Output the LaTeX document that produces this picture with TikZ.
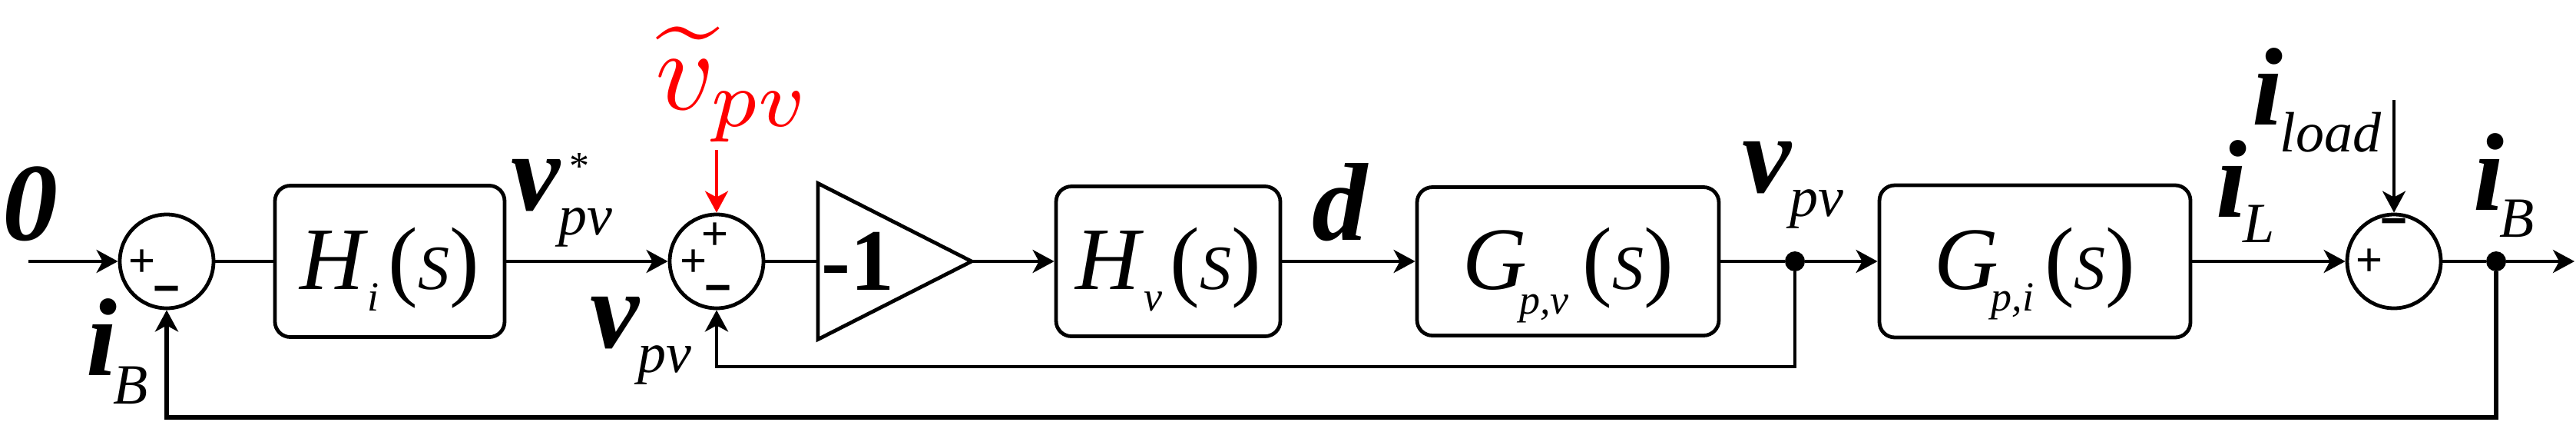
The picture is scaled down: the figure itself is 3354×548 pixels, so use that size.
\documentclass[tikz,border=0pt]{standalone}
\usepackage{fontspec}
\setmainfont{Liberation Serif}
\setsansfont{Liberation Sans}
\usepackage{graphicx}
\usetikzlibrary{arrows.meta}
\newcommand\labBig{\fontsize{72}{80}\selectfont\bfseries\itshape}
\newcommand\labSub{\fontsize{37}{40}\selectfont\mdseries\itshape}
\newcommand\boxMain{\fontsize{58}{60}\selectfont\itshape}
\newcommand\boxPar{\fontsize{58}{60}\selectfont\upshape}
\newcommand\boxSub{\fontsize{27}{30}\selectfont\itshape}
\newcommand\boxSS{\fontsize{41}{44}\selectfont\itshape}
\begin{document}
\begin{tikzpicture}[x=0.5pt,y=-0.5pt,
  conn/.style={line width=2pt},
  arr/.style={line width=2pt,-{Stealth[length=14pt,width=15pt,inset=4pt]}},
  blk/.style={draw,line width=2.4pt,rounded corners=10pt,inner sep=0pt,text height=40pt,text depth=4pt},
  sumn/.style={draw,circle,line width=2.4pt,minimum size=61pt,inner sep=0pt},
  dotn/.style={circle,fill,minimum size=13pt,inner sep=0pt},
  sgn/.style={inner sep=0pt,font=\fontsize{30}{32}\selectfont\sffamily},
  msgn/.style={inner sep=0pt,font=\fontsize{30}{32}\selectfont\sffamily\bfseries},
  lab/.style={anchor=base west,inner sep=0pt}]
\useasboundingbox (0,0) rectangle (3354,548);

% coordinates
\coordinate (in) at (37,340);
\coordinate (out) at (3352,340);
\coordinate (gL) at (1065,340);
\coordinate (gR) at (1265,340);
\coordinate (fb1) at (2337,477);
\coordinate (fb2) at (3250,543);
\coordinate (iload) at (3117,130);
\coordinate (vt) at (933,195);

% summing junctions
\node[sumn] (s1) at (217,340) {};
\node[sumn] (s2) at (933,340) {};
\node[sumn] (s3) at (3117,340) {};
\node[sgn] (p1) at (185,342) {+};
\node[msgn] (m1) at (217,384) {−};
\node[sgn] (p2a) at (931,307) {+};
\node[sgn] (p2b) at (903,342) {+};
\node[msgn] (m2) at (935,383) {−};
\node[sgn] (p3) at (3085,341) {+};
\node[msgn] (m3) at (3117,296) {−};

% blocks
\node[blk,minimum width=149.5pt,minimum height=98.5pt] (hi) at (507.5,340)
  {\boxMain H\kern2pt\raisebox{-14pt}{\boxSub i}\kern6pt\boxPar(\boxSS S\boxPar)};
\node[blk,minimum width=146pt,minimum height=97.5pt] (hv) at (1521,340)
  {\boxMain H\kern3pt\raisebox{-14pt}{\boxSub v}\kern5pt\boxPar(\boxSS S\boxPar)};
\node[blk,minimum width=196.5pt,minimum height=96.5pt] (gpv) at (2041.5,340)
  {\boxMain G\kern-5pt\raisebox{-16pt}{\boxSub p,v}\kern9pt\boxPar(\boxSS S\boxPar)};
\node[blk,minimum width=202.5pt,minimum height=99pt] (gpi) at (2649.5,340)
  {\boxMain G\kern-5pt\raisebox{-14pt}{\boxSub p,i}\kern7pt\boxPar(\boxSS S\boxPar)};

% gain triangle
\draw[line width=2.4pt,line join=miter] (1065,238.5) -- (gR) -- (1065,441.5) -- cycle;
\node[anchor=base,inner sep=0pt] (gain) at (1117,377) {\fontsize{57}{60}\selectfont\bfseries -1};

% dots
\node[dotn] (d1) at (2337,340) {};
\node[dotn] (d2) at (3250,340) {};

% connectors
\draw[arr] (in) -- (s1.west);
\draw[conn] (s1.east) -- (hi.west);
\draw[arr] (hi.east) -- (s2.west);
\draw[conn] (s2.east) -- (gL);
\draw[arr] (gR) -- (hv.west);
\draw[arr] (hv.east) -- (gpv.west);
\draw[conn] (gpv.east) -- (d1);
\draw[arr] (d1) -- (gpi.west);
\draw[arr] (gpi.east) -- (s3.west);
\draw[conn] (s3.east) -- (d2);
\draw[arr] (d2) -- (out);
\draw[arr,line width=2.4pt] (d1) -- (fb1) -| (s2.south);
\draw[arr,line width=3pt] (d2) -- (fb2) -| (s1.south);
\draw[arr] (iload) -- (s3.north);
\draw[arr,red] (vt) -- (s2.north);

% labels
\node[lab] (l0) at (3,312) {\labBig 0};
\node[lab] (liB) at (112,488) {\labBig i\kern-2.5pt\raisebox{-18.5pt}{\labSub B}};
\node[lab] (lvs) at (665,273) {\labBig v\rlap{\kern6pt\raisebox{20pt}{\fontsize{26}{28}\selectfont\mdseries\upshape *}}\kern-1pt\raisebox{-16pt}{\labSub pv}};
\node[lab] (lv1) at (768,452) {\labBig v\kern-1pt\raisebox{-16pt}{\labSub pv}};
\node[lab] (ld) at (1708,312) {\labBig d};
\node[lab] (lv2) at (2268,250) {\labBig v\kern-1pt\raisebox{-15.5pt}{\labSub pv}};
\node[lab] (liL) at (2885,282) {\labBig i\kern-2.5pt\raisebox{-16.5pt}{\labSub L}};
\node[lab] (lil) at (2932,162) {\labBig i\kern-2pt\raisebox{-17.5pt}{\labSub load}};
\node[lab] (liB2) at (3220,273) {\labBig i\kern-3pt\raisebox{-17.5pt}{\labSub B}};
\node[lab,text=red] (lvt) at (853,142) {\scalebox{7.45}{$\widetilde{v}_{pv}$}};
\end{tikzpicture}
\end{document}
